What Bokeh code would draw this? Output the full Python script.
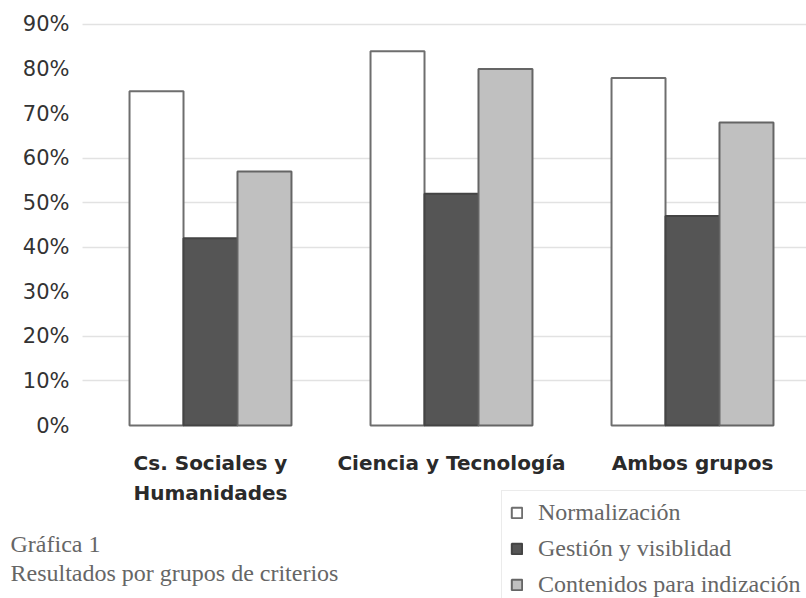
from bokeh.plotting import figure
from bokeh.models import (ColumnDataSource, Range1d, FixedTicker, NumeralTickFormatter,
                          Legend, LegendItem, Label)
from bokeh.transform import dodge
from bokeh.embed import file_html
from bokeh.resources import INLINE

# ---- data ----
categories = ["Cs. Sociales y\nHumanidades", "Ciencia y Tecnología", "Ambos grupos"]
series_names = ["Normalización", "Gestión y visiblidad", "Contenidos para indización"]
normalizacion = [0.75, 0.84, 0.78]
gestion = [0.42, 0.52, 0.47]
contenidos = [0.57, 0.80, 0.68]
y_ticks = [0.0, 0.1, 0.2, 0.3, 0.4, 0.5, 0.6, 0.7, 0.8, 0.9]
grid_ticks = [0.1, 0.2, 0.4, 0.5, 0.6, 0.9]
caption_lines = ["Gráfica 1", "Resultados por grupos de criterios"]

xpos = list(range(len(categories)))
source = ColumnDataSource(data=dict(x=xpos, norm=normalizacion, gest=gestion, cont=contenidos))

W, H = 806, 598
PX_X = 241.0      # pixels per category
PX_Y = 445.6      # pixels per 100 %
X0_PIX, Y0_PIX = 210.0, 425.0   # pixel position of first category / 0 %
AXIS_LEFT_PIX = 82.0

x_start = -X0_PIX / PX_X
x_end = (W - X0_PIX) / PX_X
y_end = Y0_PIX / PX_Y
y_start = -(H - Y0_PIX) / PX_Y
x_axis_loc = (AXIS_LEFT_PIX - X0_PIX) / PX_X

p = figure(width=W, height=H, output_backend="svg", toolbar_location=None,
           x_range=Range1d(x_start, x_end), y_range=Range1d(y_start, y_end),
           min_border=0)
p.outline_line_color = None
p.background_fill_color = "white"
p.border_fill_color = "white"

bw = 0.224
styles = [("norm", -bw, "#ffffff", "#6e6e6e"),
          ("gest", 0.0, "#555555", "#444444"),
          ("cont", bw, "#c0c0c0", "#656565")]
renderers = []
for col, off, fill, line in styles:
    r = p.vbar(x=dodge("x", off, range=p.x_range), top=col, width=bw, bottom=0, source=source,
               fill_color=fill, line_color=line, line_width=2)
    renderers.append(r)

# axes
xa = p.xaxis[0]
xa.fixed_location = 0
xa.ticker = FixedTicker(ticks=xpos)
xa.major_label_overrides = {i: c for i, c in enumerate(categories)}
xa.axis_line_color = None
xa.major_tick_line_color = None
xa.minor_tick_line_color = None
xa.major_label_standoff = 19
xa.major_label_text_font = "DejaVu Sans"
xa.major_label_text_font_style = "bold"
xa.major_label_text_font_size = "20px"
xa.major_label_text_color = "#2a2a2a"
xa.major_label_text_line_height = 1.25

ya = p.yaxis[0]
ya.fixed_location = x_axis_loc
ya.ticker = FixedTicker(ticks=y_ticks)
ya.formatter = NumeralTickFormatter(format="0%")
ya.axis_line_color = None
ya.major_tick_line_color = None
ya.minor_tick_line_color = None
ya.major_label_standoff = 7
ya.major_label_text_font = "DejaVu Sans"
ya.major_label_text_font_size = "21px"
ya.major_label_text_color = "#333333"

p.xgrid.grid_line_color = None
yg = p.ygrid[0]
yg.ticker = FixedTicker(ticks=grid_ticks)
yg.grid_line_color = "#e2e2e2"
yg.grid_line_width = 1.5
if "cross_bounds" in yg.properties():
    yg.cross_bounds = (x_axis_loc, x_end)
else:
    yg.grid_line_color = None
    p.segment(x0=x_axis_loc, x1=x_end, y0=grid_ticks, y1=grid_ticks,
              line_color="#e2e2e2", line_width=1.5, level="underlay")

# legend (frame covers whole canvas: location in screen px from bottom-left)
legend = Legend(items=[LegendItem(label=n, renderers=[r]) for n, r in zip(series_names, renderers)],
                location=(501, -9), orientation="vertical",
                padding=8, spacing=9, margin=0,
                glyph_width=13, glyph_height=13, label_standoff=15,
                label_text_font="Liberation Serif", label_text_font_size="24px",
                label_text_color="#666666",
                border_line_color="#d8d8d8", border_line_width=1.5,
                background_fill_color="white", background_fill_alpha=1.0)
p.add_layout(legend, "center")

# caption
for i, txt in enumerate(caption_lines):
    p.add_layout(Label(x=10, y=55 - 29 * i, x_units="screen", y_units="screen", text=txt,
                       text_font="Liberation Serif", text_font_size="24px",
                       text_color="#666666", text_baseline="alphabetic"))

open("out.html", "w").write(file_html(p, INLINE))
